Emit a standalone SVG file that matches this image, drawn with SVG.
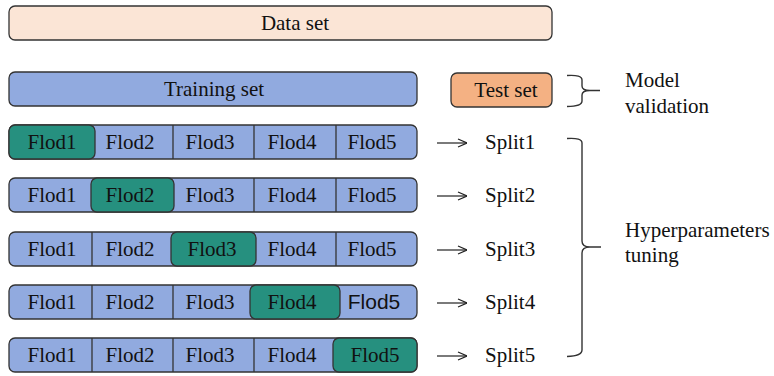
<svg xmlns="http://www.w3.org/2000/svg" width="774" height="376" viewBox="0 0 774 376">
<defs>
<style>
.box{stroke:#333;stroke-width:1.3}
.peach{fill:#fbe5d6}
.blue{fill:#91aadf}
.orange{fill:#f4b183}
.green{fill:#26907f}
.div{stroke:#333;stroke-width:1.3}
.t{font-family:"Liberation Serif","Times New Roman",serif;font-size:21px;fill:#111}
.s{font-family:"Liberation Sans",Arial,sans-serif;font-size:21px;fill:#111}
.c{text-anchor:middle}
.conn{fill:none;stroke:#222;stroke-width:1.2}
.brace{fill:none;stroke:#333;stroke-width:1.4}
</style>
<marker id="arr" viewBox="0 0 10 10" refX="10" refY="5" markerWidth="10" markerHeight="10" markerUnits="userSpaceOnUse" orient="auto">
<path d="M1,1 L10,5 L1,9" fill="none" stroke="#222" stroke-width="1.2"/>
</marker>
</defs>
<rect width="774" height="376" fill="#fff"/>

<g id="dataset">
<rect class="box peach" x="9" y="6" width="543" height="34" rx="6"/>
<text class="t c" x="295" y="30">Data set</text>
</g>

<g id="trainingset">
<rect class="box blue" x="9" y="72" width="408" height="34" rx="6"/>
<text class="t c" x="214" y="96">Training set</text>
</g>

<g id="testset">
<rect class="box orange" x="451" y="73" width="101" height="34" rx="6"/>
<text class="t c" x="506" y="97">Test set</text>
</g>

<g id="split1">
<rect class="box blue" x="9" y="125" width="408" height="34" rx="6"/>
<line class="div" x1="173" y1="125" x2="173" y2="159"/>
<line class="div" x1="254" y1="125" x2="254" y2="159"/>
<line class="div" x1="336" y1="125" x2="336" y2="159"/>
<rect class="box green" x="9" y="125" width="86" height="34" rx="6"/>
<text class="t c" x="52" y="149">Flod1</text>
<text class="t c" x="130" y="149">Flod2</text>
<text class="t c" x="210" y="149">Flod3</text>
<text class="t c" x="292" y="149">Flod4</text>
<text class="t c" x="372" y="149">Flod5</text>
</g>

<g id="split2">
<rect class="box blue" x="9" y="178" width="408" height="34" rx="6"/>
<line class="div" x1="254" y1="178" x2="254" y2="212"/>
<line class="div" x1="336" y1="178" x2="336" y2="212"/>
<rect class="box green" x="91" y="178" width="83" height="34" rx="6"/>
<text class="t c" x="52" y="202">Flod1</text>
<text class="t c" x="130" y="202">Flod2</text>
<text class="t c" x="210" y="202">Flod3</text>
<text class="t c" x="292" y="202">Flod4</text>
<text class="t c" x="372" y="202">Flod5</text>
</g>

<g id="split3">
<rect class="box blue" x="9" y="232" width="408" height="34" rx="6"/>
<line class="div" x1="92" y1="232" x2="92" y2="266"/>
<line class="div" x1="336" y1="232" x2="336" y2="266"/>
<rect class="box green" x="171" y="232" width="85" height="34" rx="6"/>
<text class="t c" x="52" y="256">Flod1</text>
<text class="t c" x="130" y="256">Flod2</text>
<text class="t c" x="212" y="256">Flod3</text>
<text class="t c" x="292" y="256">Flod4</text>
<text class="t c" x="372" y="256">Flod5</text>
</g>

<g id="split4">
<rect class="box blue" x="9" y="285" width="408" height="34" rx="6"/>
<line class="div" x1="92" y1="285" x2="92" y2="319"/>
<line class="div" x1="173" y1="285" x2="173" y2="319"/>
<rect class="box green" x="250" y="285" width="90" height="34" rx="6"/>
<text class="t c" x="52" y="309">Flod1</text>
<text class="t c" x="130" y="309">Flod2</text>
<text class="t c" x="210" y="309">Flod3</text>
<text class="t c" x="292" y="309">Flod4</text>
<text class="s c" x="374" y="309">Flod5</text>
</g>

<g id="split5">
<rect class="box blue" x="9" y="338" width="408" height="34" rx="6"/>
<line class="div" x1="92" y1="338" x2="92" y2="372"/>
<line class="div" x1="173" y1="338" x2="173" y2="372"/>
<line class="div" x1="254" y1="338" x2="254" y2="372"/>
<rect class="box green" x="333" y="338" width="84" height="34" rx="6"/>
<text class="t c" x="52" y="362">Flod1</text>
<text class="t c" x="130" y="362">Flod2</text>
<text class="t c" x="210" y="362">Flod3</text>
<text class="t c" x="292" y="362">Flod4</text>
<text class="t c" x="375" y="362">Flod5</text>
</g>

<g id="labels">
<text class="t" x="485" y="149">Split1</text>
<text class="t" x="485" y="202">Split2</text>
<text class="t" x="485" y="256">Split3</text>
<text class="t" x="485" y="309">Split4</text>
<text class="t" x="485" y="362">Split5</text>
<text class="t" x="625" y="87">Model</text>
<text class="t" x="625" y="113">validation</text>
<text class="t" x="625" y="237">Hyperparameters</text>
<text class="t" x="625" y="262">tuning</text>
</g>

<g id="connectors">
<line class="conn" x1="437" y1="143" x2="467" y2="143" marker-end="url(#arr)"/>
<line class="conn" x1="437" y1="196" x2="467" y2="196" marker-end="url(#arr)"/>
<line class="conn" x1="437" y1="250" x2="467" y2="250" marker-end="url(#arr)"/>
<line class="conn" x1="437" y1="303" x2="467" y2="303" marker-end="url(#arr)"/>
<line class="conn" x1="437" y1="356" x2="467" y2="356" marker-end="url(#arr)"/>
<path class="brace" d="M567,75.5 Q582,74.5 582,80 L582,86 Q582,90.5 590,90.5 L600,90.5 M590,90.5 Q582,90.5 582,95 L582,101 Q582,106.5 567,106.5"/>
<path class="brace" d="M567,138.5 Q582,137.5 582,143 L582,241 Q582,247 590,247 L601,247 M590,247 Q582,247 582,253 L582,350 Q582,356 567,356.5"/>
</g>
</svg>
